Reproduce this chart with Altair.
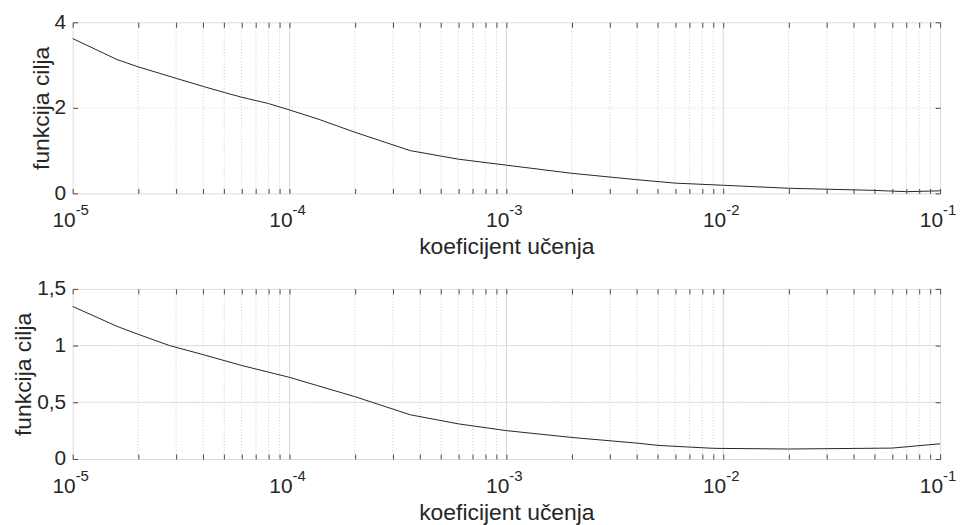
import altair as alt
import pandas as pd

# ---- data ----
lr_top = [1e-5, 1.6e-5, 2e-5, 3e-5, 4e-5, 5e-5, 6e-5, 8e-5, 1e-4, 1.35e-4, 2e-4,
          3.6e-4, 6e-4, 1e-3, 2e-3, 4e-3, 6e-3, 1e-2, 2e-2, 5e-2, 7e-2, 1e-1]
loss_top = [3.62, 3.13, 2.96, 2.69, 2.50, 2.36, 2.25, 2.10, 1.95, 1.74, 1.43,
            1.00, 0.80, 0.66, 0.47, 0.32, 0.24, 0.19, 0.12, 0.07, 0.04, 0.06]

lr_bot = [1e-5, 1.6e-5, 2e-5, 2.8e-5, 4e-5, 6e-5, 1e-4, 1.35e-4, 2e-4, 3.6e-4,
          6e-4, 1e-3, 2e-3, 4e-3, 5e-3, 9e-3, 2e-2, 6e-2, 1e-1]
loss_bot = [1.345, 1.17, 1.10, 1.00, 0.92, 0.825, 0.72, 0.646, 0.55, 0.39,
            0.31, 0.25, 0.19, 0.14, 0.12, 0.094, 0.088, 0.096, 0.134]

decade_exps = [-5, -4, -3, -2, -1]
decade_base = ["10", "10", "10", "10", "10"]
decade_exp_labels = ["-5", "-4", "-3", "-2", "-1"]
y_ticks_top = [0, 2, 4]
y_ticks_bot = [0, 0.5, 1, 1.5]

x_title = "koeficijent učenja"
y_title = "funkcija cilja"

# ---- derived tick positions ----
major_x = [10.0 ** e for e in decade_exps]
minor_x = [k * 10.0 ** e for e in decade_exps[:-1] for k in range(2, 10)]
all_x = sorted(major_x + minor_x)

FONT = "Liberation Sans"
TXT = "#262626"
AX = "#4a4a4a"
W = 872
LBL = 21
TTL = 23

xscale = alt.Scale(type="log", domain=[1e-5, 1e-1], nice=False)


def panel(lr, loss, ymax, yticks, ygrid_dash, h):
    yscale = alt.Scale(domain=[0, ymax], nice=False, zero=True)
    df = pd.DataFrame({"lr": lr, "loss": loss})
    dec = pd.DataFrame({"v": major_x, "b": decade_base, "t": decade_exp_labels})

    minor = alt.Chart(pd.DataFrame({"v": minor_x})).mark_rule(
        color="#cccccc", strokeDash=[1, 2], strokeWidth=1
    ).encode(x=alt.X("v:Q", scale=xscale, axis=None))
    major = alt.Chart(pd.DataFrame({"v": major_x[1:-1]})).mark_rule(
        color="#d8d8d8", strokeWidth=1
    ).encode(x=alt.X("v:Q", scale=xscale, axis=None))
    hgrid = alt.Chart(pd.DataFrame({"v": yticks[1:-1]})).mark_rule(
        color="#d8d8d8", strokeWidth=1, strokeDash=ygrid_dash
    ).encode(y=alt.Y("v:Q", scale=yscale, axis=None))

    line = alt.Chart(df).mark_line(color="#262626", strokeWidth=1).encode(
        x=alt.X("lr:Q", scale=xscale, axis=alt.Axis(
            orient="bottom", values=all_x, labels=False, grid=False,
            domain=False, offset=-5, tickSize=5, tickColor=AX,
            title=x_title, titleFont=FONT, titleFontSize=TTL,
            titleFontWeight="normal", titleColor=TXT, titlePadding=42, zindex=1)),
        y=alt.Y("loss:Q", scale=yscale, axis=alt.Axis(
            orient="left", values=yticks,
            labelExpr="replace(format(datum.value, '~g'), '.', ',')",
            grid=False, domain=False, offset=-5, tickSize=5, tickColor=AX,
            labelPadding=7, labelFlush=False, labelOverlap=False, labelFont=FONT,
            labelFontSize=LBL, labelColor=TXT, title=y_title, titleFont=FONT,
            titleFontSize=TTL, titleFontWeight="normal", titleColor=TXT,
            titlePadding=1, zindex=1)),
    )
    frame = alt.Chart(df).mark_line(opacity=0).encode(
        x=alt.X("lr:Q", scale=xscale, axis=alt.Axis(
            orient="top", values=all_x, labels=False, title="", grid=False,
            domain=False, offset=-5, tickSize=5, tickColor=AX, zindex=1)),
        y=alt.Y("loss:Q", scale=yscale, axis=alt.Axis(
            orient="right", values=yticks, labels=False, title="", grid=False,
            domain=False, offset=-5, tickSize=5, tickColor=AX, zindex=1)),
    )
    base = alt.Chart(dec).mark_text(
        align="right", baseline="alphabetic", font=FONT, fontSize=LBL, color=TXT, dx=3
    ).encode(x=alt.X("v:Q", scale=xscale, axis=None), y=alt.value(h + 34), text="b:N")
    exps = alt.Chart(dec).mark_text(
        align="left", baseline="alphabetic", font=FONT, fontSize=15, color=TXT, dx=3
    ).encode(x=alt.X("v:Q", scale=xscale, axis=None), y=alt.value(h + 22), text="t:N")
    return alt.layer(minor, major, hgrid, line, frame, base, exps).properties(width=W, height=h)


top = panel(lr_top, loss_top, 4, y_ticks_top, [1, 2], 172)
bot = panel(lr_bot, loss_bot, 1.5, y_ticks_bot, [1, 0], 171)

chart = alt.vconcat(top, bot, spacing=18).properties(
    padding={"left": 4, "top": 1, "right": 0, "bottom": 0}
).configure_view(stroke=AX, strokeWidth=1).configure(background="white")

chart.save("out.html", embed_options={"renderer": "svg", "actions": False})
